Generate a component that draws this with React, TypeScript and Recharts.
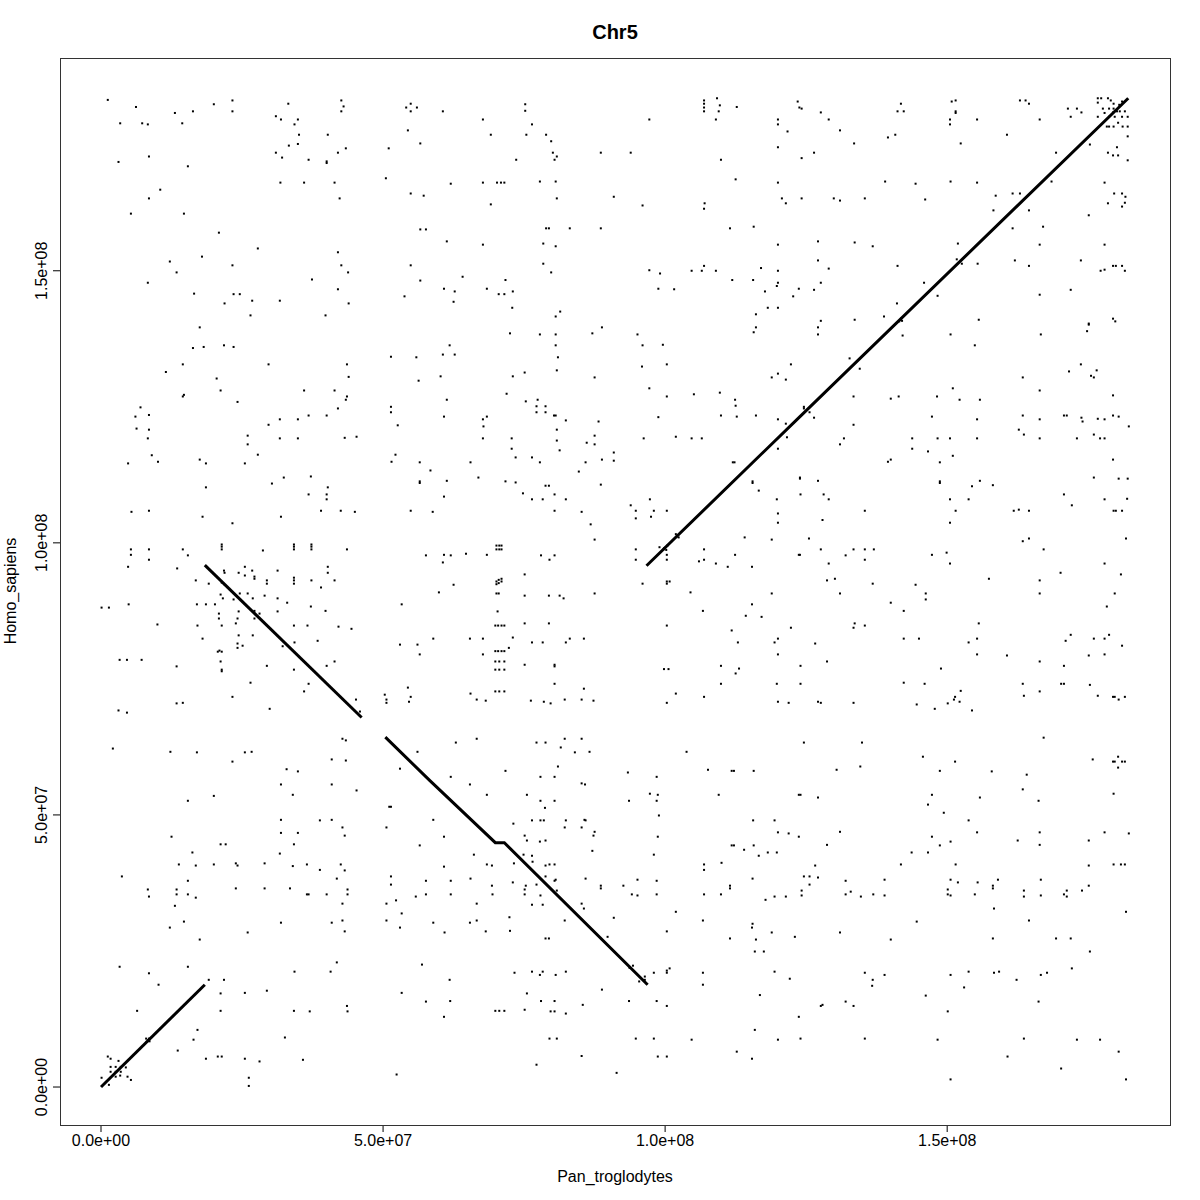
import { ScatterChart, Scatter, XAxis, YAxis } from "recharts";

// alignment positions in Mb (Pan_troglodytes x, Homo_sapiens y)
const segA: [number, number][] = [[0.0, 0.0], [18.4, 18.8]];
const segB: [number, number][] = [[18.4, 95.9], [46.2, 67.9]];
const segC: [number, number][] = [[50.4, 64.3], [58.3, 56.3], [69.9, 44.9], [71.5, 44.9], [96.9, 18.8]];
const segD: [number, number][] = [[96.7, 95.8], [123.9, 123.2], [182.1, 181.7]];

// small clusters sitting on the alignment lines
const lineMarks: [number, number][] = [
  [8.3, 8.6], [8.6, 8.4], [8.0, 8.9], [8.5, 8.9], [8.1, 8.3],
  [100.0, 99.1], [100.4, 99.5], [99.7, 98.8], [100.2, 98.7], [102.1, 101.2], [102.4, 101.0], [101.9, 101.6],
  [141.7, 141.0], [141.9, 141.3], [141.5, 140.7], [142.0, 140.8],
];

const dotsTopLeft: [number, number][] = [
  [1.2, 181.4], [6.2, 180.1], [13.1, 179.0], [16.3, 179.3], [20.0, 180.6], [23.3, 181.3], [23.3, 179.3],
  [3.4, 177.1], [7.3, 177.1], [8.3, 176.9], [14.4, 177.1], [33.2, 180.7], [42.6, 181.3], [43.0, 180.2],
  [42.6, 179.3], [54.9, 180.7], [54.1, 180.0], [56.0, 180.0], [54.9, 179.3], [31.0, 178.4], [31.9, 177.8],
  [34.9, 177.8], [34.3, 176.9], [35.1, 175.0], [40.2, 175.0], [33.3, 173.0], [34.9, 173.3], [43.4, 172.5],
  [51.0, 172.5], [54.4, 175.8], [56.6, 173.4], [31.0, 171.7], [32.1, 170.8], [42.0, 171.7], [36.8, 170.4],
  [40.0, 170.1], [40.0, 169.8], [3.1, 170.0], [8.5, 171.0], [15.4, 169.2], [50.5, 167.0], [31.8, 166.2],
  [36.0, 166.2], [41.4, 166.2], [10.5, 164.9], [8.5, 163.3], [42.3, 163.3], [54.9, 164.2], [57.2, 163.8],
  [5.3, 160.5], [14.7, 160.5], [20.9, 157.0], [56.6, 157.6], [57.6, 157.6], [27.8, 154.1], [17.9, 152.6],
  [12.2, 151.7], [42.0, 153.4], [13.4, 149.7], [23.3, 151.0], [42.6, 151.0], [43.8, 149.7], [54.9, 151.0],
  [8.3, 147.8], [37.4, 148.4], [56.6, 148.2], [16.5, 145.8], [23.5, 145.7], [24.6, 145.7], [42.0, 146.6],
  [26.8, 144.5], [31.7, 144.5], [21.9, 144.0], [43.9, 144.0], [53.8, 145.3], [26.5, 141.8], [39.8, 141.8],
];

const dotsTopMid: [number, number][] = [
  [60.6, 179.3], [75.2, 180.6], [75.2, 179.4], [67.7, 177.8], [76.4, 176.9], [69.1, 175.0], [75.4, 175.0],
  [78.9, 175.0], [79.8, 173.8], [80.1, 171.7], [80.8, 171.0], [80.4, 170.4], [73.6, 170.4], [88.6, 171.7],
  [93.9, 171.7], [62.0, 166.0], [67.7, 166.2], [70.2, 166.2], [70.9, 166.2], [71.5, 166.2], [77.8, 166.4],
  [80.6, 166.4], [80.8, 163.3], [69.1, 162.2], [90.9, 163.6], [96.0, 162.0], [106.9, 181.3], [106.9, 180.7],
  [109.2, 181.7], [109.7, 180.4], [106.9, 180.0], [106.9, 179.3], [109.5, 179.3], [112.7, 180.1],
  [123.5, 181.1], [123.8, 180.0], [97.2, 177.8], [109.0, 177.8], [120.0, 177.8], [120.0, 176.9],
  [121.7, 175.6], [120.0, 172.7], [109.9, 170.4], [112.5, 166.8], [120.0, 166.2], [120.7, 163.3],
  [121.4, 162.4], [107.0, 162.4], [106.9, 161.4], [78.9, 157.8], [79.4, 157.8], [83.1, 157.8], [88.6, 157.8],
  [111.5, 157.8], [115.7, 158.1], [61.3, 155.4], [67.7, 154.8], [78.4, 155.0], [80.6, 154.5], [120.0, 154.8],
  [78.4, 151.3], [79.8, 149.7], [64.1, 148.9], [71.7, 148.3], [60.8, 146.7], [62.7, 146.2], [68.4, 146.7],
  [70.5, 145.7], [71.5, 145.7], [73.0, 146.2], [62.5, 144.3], [72.9, 143.2], [81.4, 142.5], [80.6, 141.6],
  [97.2, 150.1], [99.1, 149.5], [104.7, 150.0], [106.5, 150.0], [109.0, 150.0], [106.9, 150.9],
  [117.0, 150.5], [120.0, 150.0], [111.9, 148.3], [115.6, 148.3], [98.8, 146.7], [101.6, 146.6],
  [120.0, 147.8], [119.8, 147.2], [117.7, 146.2], [123.7, 146.7], [122.7, 145.3], [118.2, 143.2],
  [120.0, 143.2], [116.1, 142.0],
];

const dotsTopRight: [number, number][] = [
  [124.2, 179.8], [127.6, 179.1], [129.0, 177.8], [131.0, 175.8], [133.5, 173.4], [126.4, 171.7],
  [124.2, 170.7], [141.8, 180.7], [141.2, 179.3], [142.3, 179.3], [139.5, 174.5], [140.8, 175.0],
  [150.8, 181.1], [151.5, 181.3], [151.5, 179.3], [151.5, 179.0], [150.5, 177.8], [150.5, 176.9], [155.3, 177.8],
  [162.9, 181.3], [163.9, 181.3], [164.5, 180.7], [166.4, 177.8], [160.6, 175.0], [152.4, 173.4],
  [169.3, 171.7], [171.4, 179.8], [171.9, 178.3], [173.0, 179.8], [173.8, 179.1], [139.0, 166.4],
  [144.4, 166.0], [150.6, 166.4], [155.3, 166.2], [129.9, 163.3], [131.0, 162.9], [135.4, 163.3],
  [146.1, 163.1], [124.2, 163.3], [158.6, 163.8], [161.6, 164.2], [162.9, 164.2], [158.2, 161.1],
  [164.5, 161.1], [168.5, 166.4], [175.3, 173.2], [177.9, 166.2], [178.5, 171.7], [179.4, 171.2],
  [180.3, 171.2], [180.1, 172.7], [182.0, 170.3], [182.0, 174.7], [179.6, 164.2], [181.0, 164.2],
  [181.6, 163.6], [178.5, 162.4], [181.0, 161.8], [181.5, 162.5], [175.1, 160.2], [161.6, 157.8],
  [167.0, 158.1], [127.1, 155.4], [133.6, 155.2], [136.8, 154.5], [151.9, 155.0], [166.4, 154.8],
  [177.9, 154.8], [127.1, 151.9], [129.0, 150.4], [141.2, 150.9], [151.7, 152.1], [152.6, 151.3],
  [155.4, 151.3], [162.0, 151.9], [164.5, 150.9], [173.7, 151.9], [177.2, 150.0], [177.9, 150.2],
  [179.4, 150.9], [179.9, 150.9], [181.0, 150.9], [181.5, 150.0], [127.6, 147.8], [126.4, 146.5],
  [141.1, 144.0], [145.9, 147.8], [148.3, 145.4], [166.4, 145.6], [171.9, 146.5], [127.6, 140.8],
  [133.6, 141.0], [138.8, 141.6], [155.6, 141.0], [175.1, 140.3], [179.4, 141.2], [179.8, 140.7],
  [176.7, 181.7], [178.5, 181.7], [176.7, 180.9], [179.5, 180.7], [181.0, 181.1], [177.6, 179.8],
  [178.7, 179.8], [179.5, 179.8], [180.6, 179.3], [181.5, 179.3], [176.7, 178.3], [178.7, 178.3],
  [179.7, 178.3], [181.0, 178.3], [182.0, 178.3], [178.3, 176.5], [178.7, 176.5], [179.5, 176.5],
  [180.3, 177.2], [181.1, 176.5], [182.0, 176.5], [180.1, 179.3], [179.4, 179.1], [177.3, 181.7],
  [179.0, 181.3], [180.5, 180.5], [177.9, 179.0],
];

const dotsUpperLeft: [number, number][] = [
  [17.5, 139.6], [16.3, 135.8], [18.2, 136.0], [21.8, 136.3], [23.5, 136.0], [14.5, 132.8], [11.5, 131.4],
  [20.5, 130.2], [21.2, 128.0], [14.7, 127.2], [14.5, 126.9], [24.2, 125.9], [29.7, 132.8], [43.6, 132.8],
  [43.9, 130.5], [36.0, 128.0], [41.4, 128.0], [43.6, 126.9], [43.4, 126.3], [42.0, 124.7], [51.4, 134.2],
  [55.9, 134.1], [56.3, 129.8], [7.0, 124.9], [6.1, 123.2], [8.5, 123.5], [6.3, 121.0], [8.5, 120.8],
  [8.3, 119.2], [9.0, 116.1], [10.1, 114.9], [4.8, 114.6], [17.5, 115.3], [18.6, 114.6], [25.5, 114.6],
  [26.0, 119.7], [26.0, 118.1], [27.8, 116.2], [29.7, 121.7], [31.7, 122.7], [34.9, 122.7], [36.8, 123.4],
  [40.0, 123.4], [31.7, 119.2], [34.9, 119.2], [43.2, 119.3], [45.3, 119.5], [51.4, 125.0], [51.4, 124.0],
  [52.6, 121.6], [52.2, 116.2], [51.5, 114.9], [56.5, 114.8], [56.5, 111.3], [56.5, 111.0], [18.6, 110.2],
  [30.3, 110.9], [32.4, 112.0], [37.2, 112.2], [40.2, 110.2], [36.8, 108.9], [40.0, 108.9], [40.0, 108.0],
  [5.4, 105.7], [8.5, 105.9], [18.0, 104.8], [23.3, 103.6], [31.9, 104.8], [39.0, 105.9], [42.5, 105.9],
  [45.0, 105.7], [54.9, 105.9], [5.3, 98.8], [5.3, 97.8], [8.5, 98.8], [8.5, 96.9], [4.8, 95.6],
  [14.5, 98.8], [15.4, 97.7], [13.5, 95.3], [21.4, 99.7], [21.4, 99.3], [21.4, 98.8], [28.7, 98.6],
  [34.2, 99.7], [34.2, 99.3], [34.2, 98.8], [37.3, 99.7], [37.3, 99.3], [37.3, 98.8], [43.6, 98.8],
  [57.6, 97.7], [21.8, 94.9], [21.9, 94.5], [25.5, 95.6], [24.4, 94.5], [25.5, 94.0], [26.8, 94.9],
  [27.2, 93.8], [27.2, 93.4], [31.3, 94.9], [16.8, 93.1], [19.1, 92.5], [21.4, 92.7], [21.8, 92.4],
  [29.4, 93.1], [29.4, 92.5], [34.2, 93.6], [34.2, 93.1], [34.2, 92.5], [37.3, 93.1], [39.0, 91.8],
  [40.2, 95.6], [40.2, 94.5], [41.4, 93.1],
];

const dotsUpperMid: [number, number][] = [
  [72.5, 138.5], [77.8, 138.3], [80.6, 138.3], [87.1, 138.5], [88.8, 139.6], [95.1, 138.3], [61.8, 136.3],
  [60.6, 134.6], [62.7, 134.6], [80.6, 136.3], [81.0, 134.1], [80.8, 131.7], [60.2, 130.6], [73.0, 130.6],
  [75.1, 131.3], [87.5, 130.4], [96.0, 136.3], [99.6, 136.4], [100.3, 132.8], [95.9, 132.4], [97.2, 128.4],
  [100.3, 126.9], [105.1, 127.3], [109.7, 127.6], [112.4, 126.3], [112.5, 125.2], [109.9, 123.4],
  [112.7, 123.2], [116.1, 123.4], [120.0, 122.7], [118.9, 130.4], [120.0, 131.1], [121.4, 130.0],
  [122.3, 132.8], [115.7, 138.7], [116.1, 139.6], [61.3, 126.3], [71.9, 127.4], [75.3, 126.0],
  [77.4, 126.3], [77.2, 125.1], [78.8, 125.1], [77.2, 124.0], [78.8, 124.0], [80.6, 123.4], [80.3, 123.4],
  [82.4, 122.5], [88.2, 122.3], [60.8, 123.2], [67.7, 122.7], [68.4, 123.2], [67.8, 121.4], [67.7, 119.2],
  [72.8, 119.2], [72.8, 117.3], [73.5, 115.7], [76.4, 115.7], [77.8, 114.8], [80.8, 120.8], [80.8, 118.8],
  [81.3, 117.0], [86.1, 118.4], [87.5, 119.7], [87.5, 118.1], [88.8, 115.3], [90.9, 116.6], [90.9, 115.1],
  [85.9, 114.8], [84.7, 113.1], [65.5, 114.8], [58.4, 113.3], [66.9, 112.0], [61.3, 111.4], [60.8, 108.5],
  [58.8, 105.7], [71.7, 111.3], [73.5, 111.1], [78.8, 110.5], [79.4, 110.5], [74.8, 109.1], [76.4, 108.0],
  [78.3, 108.0], [80.4, 108.9], [82.4, 108.0], [80.4, 105.9], [85.2, 105.7], [88.6, 110.7], [86.8, 103.4],
  [87.5, 100.6], [96.2, 119.2], [101.9, 119.5], [104.7, 119.2], [106.5, 119.2], [98.8, 123.1],
  [93.9, 106.9], [94.8, 105.9], [94.8, 104.5], [97.3, 108.0], [98.0, 105.9], [97.5, 104.8], [100.3, 105.9],
  [112.0, 114.8], [112.3, 114.8], [115.5, 111.3], [115.5, 111.0], [116.6, 109.6], [121.4, 121.9],
  [121.6, 119.4], [120.0, 117.3], [123.9, 112.0], [119.8, 108.0], [120.0, 105.4], [120.0, 103.7],
  [114.1, 101.0], [118.9, 100.6], [112.4, 97.8], [115.4, 95.6], [111.1, 95.6], [109.0, 96.2], [106.0, 96.6],
  [106.9, 96.9], [106.9, 98.8], [100.3, 97.8], [100.3, 96.9], [94.8, 98.8], [94.8, 96.9], [123.7, 97.8],
  [60.8, 97.8], [62.0, 97.7], [64.7, 98.0], [68.4, 97.8], [60.6, 96.4], [78.0, 97.7], [80.4, 97.7],
  [79.5, 96.9], [75.1, 94.2], [62.5, 92.3], [96.0, 92.5], [70.1, 99.5], [70.6, 99.5], [71.0, 99.5],
  [70.1, 98.8], [70.6, 98.8], [71.0, 98.8], [70.1, 92.9], [71.0, 92.9], [70.5, 92.6], [70.5, 93.2],
  [70.1, 92.4], [71.0, 93.4], [100.3, 92.9], [100.3, 92.5], [100.8, 92.9], [99.0, 99.2], [99.8, 99.0],
];

const dotsUpperRight: [number, number][] = [
  [127.1, 139.6], [127.1, 138.3], [142.1, 138.1], [150.6, 138.3], [154.9, 136.3], [166.6, 138.3],
  [175.1, 140.1], [174.8, 138.9], [132.7, 133.9], [134.5, 132.0], [133.4, 126.9], [140.0, 126.5],
  [141.4, 126.9], [148.2, 126.9], [151.0, 128.4], [152.2, 126.3], [155.8, 126.3], [163.4, 130.4],
  [166.4, 128.0], [171.6, 131.5], [173.7, 132.8], [175.5, 130.7], [176.0, 130.4], [176.5, 131.7],
  [179.4, 127.1], [124.6, 125.0], [125.6, 124.0], [133.4, 121.7], [131.7, 119.2], [131.0, 118.1],
  [147.3, 123.2], [155.3, 122.7], [143.8, 119.2], [148.3, 119.2], [150.5, 119.2], [155.3, 119.2],
  [143.8, 117.3], [146.6, 116.8], [151.0, 116.0], [148.7, 114.8], [139.5, 114.9], [140.0, 115.3],
  [163.4, 123.4], [166.4, 122.7], [170.7, 123.4], [171.2, 123.4], [173.8, 123.0], [174.0, 122.3],
  [176.7, 122.8], [177.9, 122.7], [179.4, 123.4], [180.4, 123.2], [182.2, 121.4], [162.7, 120.8],
  [163.6, 119.9], [166.4, 119.2], [173.0, 119.2], [176.0, 119.9], [177.1, 119.2], [177.9, 119.2],
  [179.4, 115.3], [176.0, 112.0], [180.4, 111.8], [182.0, 111.8], [123.9, 111.8], [127.1, 111.4],
  [124.0, 108.9], [128.1, 108.9], [129.0, 108.0], [135.4, 105.9], [127.9, 104.2], [148.7, 111.3],
  [148.7, 111.0], [155.8, 111.4], [158.1, 110.6], [154.4, 110.4], [150.5, 108.0], [153.8, 108.0],
  [151.5, 105.9], [150.5, 103.7], [161.8, 105.9], [162.7, 106.1], [164.5, 105.9], [170.7, 108.9],
  [172.1, 106.9], [177.9, 108.0], [181.9, 108.1], [179.5, 105.9], [179.9, 105.9], [181.0, 105.9],
  [125.5, 100.8], [123.9, 97.8], [127.6, 98.8], [129.0, 96.2], [132.0, 97.7], [133.4, 98.8], [135.4, 98.8],
  [135.4, 96.9], [137.0, 98.8], [128.7, 93.1], [130.1, 93.4], [136.8, 92.5], [144.4, 92.3], [147.3, 97.8],
  [149.9, 98.2], [150.5, 96.2], [157.4, 93.4], [163.4, 100.3], [164.5, 100.8], [167.1, 98.8], [166.4, 93.1],
  [170.1, 94.5], [177.9, 96.2], [180.8, 94.2], [181.7, 100.8], [124.6, 124.7], [126.4, 123.0],
];

const dotsLowerLeft: [number, number][] = [
  [0.1, 88.1], [1.4, 88.1], [4.9, 88.7], [17.0, 88.7], [18.6, 88.7], [20.2, 88.7], [21.2, 90.5],
  [21.6, 89.8], [23.5, 89.6], [24.6, 90.7], [26.0, 90.7], [26.9, 89.8], [29.0, 90.3], [31.3, 89.8],
  [33.0, 89.0], [37.2, 88.3], [39.8, 87.5], [10.0, 85.0], [17.1, 84.8], [18.0, 82.4], [20.9, 87.0],
  [20.9, 86.1], [21.4, 84.8], [23.9, 85.2], [24.2, 86.1], [24.4, 87.4], [24.4, 83.0], [24.2, 81.5],
  [24.2, 80.7], [25.1, 81.1], [26.9, 83.0], [27.2, 87.5], [28.1, 87.0], [27.2, 86.1], [31.3, 87.4],
  [34.2, 84.8], [36.6, 84.8], [42.1, 84.6], [44.4, 84.2], [34.3, 81.7], [38.4, 82.0], [32.2, 81.0],
  [20.7, 80.0], [21.4, 80.0], [21.0, 80.2], [21.2, 78.2], [21.4, 76.7], [21.4, 76.4], [13.4, 77.3],
  [3.3, 78.5], [4.6, 78.5], [7.2, 78.5], [13.4, 70.5], [14.5, 70.6], [3.1, 69.2], [4.6, 68.8], [23.3, 71.7],
  [26.5, 74.3], [29.4, 77.4], [29.9, 69.5], [34.2, 76.7], [36.0, 72.7], [36.8, 74.1], [40.0, 77.4],
  [41.4, 78.2], [45.2, 71.2], [45.9, 69.0], [53.3, 88.7], [53.0, 81.3], [56.1, 81.3], [56.5, 79.5],
  [50.3, 72.1], [50.6, 71.2], [50.6, 70.6], [54.4, 73.4], [54.9, 71.7], [54.6, 70.8], [2.1, 62.2],
  [12.3, 61.6], [17.0, 61.5], [25.5, 61.5], [26.7, 61.6], [23.3, 59.8], [42.8, 64.0], [43.4, 63.7],
  [43.4, 60.0], [40.9, 60.2], [32.9, 58.4], [34.9, 58.0], [31.9, 55.6], [34.0, 53.7], [40.9, 55.6],
  [45.3, 54.5], [56.1, 61.6], [53.0, 58.5], [20.0, 53.5], [15.4, 52.6], [51.1, 51.5], [51.4, 51.5],
  [31.9, 49.1], [38.8, 49.0], [40.9, 49.1], [42.8, 47.7], [31.9, 46.7], [34.9, 46.7], [43.2, 46.2],
  [50.6, 47.7], [12.5, 46.0], [21.2, 44.6], [22.1, 44.6], [34.2, 44.6], [16.2, 43.1], [31.7, 42.9],
  [56.5, 44.4],
];

const dotsLowerMid: [number, number][] = [
  [59.9, 90.9], [70.1, 90.7], [70.5, 90.7], [75.1, 90.3], [79.4, 90.3], [81.3, 90.3], [82.0, 89.8],
  [87.5, 90.7], [70.3, 87.4], [75.1, 85.2], [79.4, 85.2], [58.9, 82.4], [65.4, 82.4], [67.7, 82.4],
  [73.0, 82.6], [72.3, 80.7], [76.4, 81.7], [78.3, 81.7], [82.4, 81.7], [83.1, 82.4], [85.6, 82.4],
  [67.7, 79.5], [75.1, 77.6], [80.4, 77.6], [80.4, 77.3], [80.4, 74.1], [85.6, 73.2], [65.5, 72.3],
  [66.6, 71.2], [68.2, 71.0], [76.2, 71.0], [78.5, 70.8], [79.7, 70.5], [82.2, 71.2], [85.2, 71.2],
  [87.3, 71.0], [69.9, 84.8], [70.4, 84.8], [71.0, 84.8], [71.5, 84.8], [69.9, 80.1], [70.4, 80.1],
  [71.0, 80.1], [71.5, 80.1], [69.9, 78.2], [70.6, 78.2], [71.5, 78.2], [69.9, 76.7], [70.6, 76.7],
  [71.5, 76.7], [69.9, 72.7], [70.6, 72.7], [71.5, 72.7], [104.5, 90.9], [118.9, 90.7], [115.4, 88.7],
  [114.3, 86.6], [117.1, 86.4], [106.7, 87.5], [100.3, 84.8], [122.3, 84.4], [111.8, 83.9], [112.9, 81.7],
  [119.4, 81.7], [120.0, 82.4], [120.0, 79.5], [99.8, 76.8], [100.6, 76.8], [109.9, 77.4], [113.1, 76.9],
  [112.5, 76.0], [109.9, 74.1], [119.8, 74.1], [101.9, 72.3], [106.9, 71.7], [100.3, 70.6], [120.0, 70.8],
  [121.9, 70.6], [62.9, 63.3], [66.6, 64.0], [77.2, 63.3], [78.8, 63.3], [82.2, 64.0], [85.2, 64.0],
  [81.5, 62.4], [84.0, 61.5], [86.6, 61.6], [103.8, 61.6], [81.0, 58.9], [62.0, 57.0], [65.4, 55.6],
  [71.7, 58.1], [77.9, 57.0], [80.4, 57.0], [85.2, 55.8], [85.8, 55.6], [68.4, 53.7], [75.5, 53.7],
  [77.9, 52.6], [80.4, 52.6], [78.7, 51.3], [93.4, 57.8], [98.5, 57.0], [97.3, 53.9], [98.7, 53.7],
  [93.6, 52.6], [98.5, 52.6], [98.9, 49.9], [107.6, 58.3], [111.8, 58.1], [112.2, 58.1], [115.7, 58.1],
  [109.5, 53.7], [123.7, 53.7], [58.9, 49.1], [60.8, 46.0], [73.1, 48.4], [76.4, 49.0], [77.9, 49.0],
  [78.5, 49.0], [82.4, 49.0], [85.7, 49.1], [85.9, 49.0], [82.2, 47.7], [85.2, 47.7], [87.5, 46.9],
  [87.3, 46.2], [75.1, 46.2], [75.5, 45.3], [77.8, 45.1], [78.8, 45.3], [66.1, 42.7], [74.9, 42.7],
  [76.4, 42.5], [87.1, 43.4], [98.0, 42.7], [98.7, 46.0], [115.6, 49.0], [119.4, 49.0], [120.0, 46.8],
  [121.9, 46.6], [123.7, 46.0], [111.8, 44.4], [112.2, 44.4], [115.7, 44.4], [114.0, 43.6], [116.6, 42.5],
  [118.2, 43.1], [119.8, 43.1],
];

const dotsLowerRight: [number, number][] = [
  [131.0, 90.7], [146.2, 90.7], [146.2, 89.6], [140.0, 89.0], [142.3, 87.5], [166.4, 90.7], [179.7, 90.7],
  [178.3, 88.3], [133.6, 85.2], [133.4, 84.4], [135.4, 84.8], [155.6, 85.2], [126.6, 81.5], [142.3, 82.4],
  [145.0, 82.4], [155.3, 82.4], [153.8, 81.7], [155.3, 79.5], [160.6, 79.3], [166.4, 78.2], [128.7, 78.2],
  [124.0, 77.4], [148.9, 76.9], [170.7, 77.4], [171.9, 83.1], [171.0, 82.0], [176.0, 82.4], [177.9, 82.4],
  [178.7, 83.1], [181.0, 81.1], [175.1, 79.3], [177.9, 79.5], [124.0, 74.1], [142.3, 74.3], [146.0, 74.1],
  [163.4, 74.1], [170.2, 74.1], [170.7, 74.1], [175.3, 73.9], [166.4, 72.7], [163.6, 71.9], [152.4, 72.8],
  [151.4, 71.7], [151.2, 71.2], [152.2, 70.8], [150.1, 70.5], [144.6, 70.3], [147.8, 69.5], [154.4, 69.2],
  [127.1, 70.8], [127.6, 70.6], [133.4, 70.6], [176.7, 71.9], [179.4, 71.7], [179.7, 71.7], [180.4, 71.2],
  [181.5, 71.7], [124.6, 63.3], [134.9, 63.3], [167.1, 64.2], [145.7, 60.7], [151.4, 59.8], [148.7, 58.1],
  [157.9, 58.0], [164.1, 57.4], [130.4, 58.3], [134.6, 58.9], [175.8, 60.2], [179.4, 59.8], [179.7, 59.8],
  [180.3, 60.7], [181.0, 59.8], [181.5, 59.8], [180.3, 58.7], [124.0, 53.7], [127.1, 53.2], [147.3, 53.7],
  [155.8, 53.2], [163.4, 54.7], [166.2, 52.6], [146.6, 51.9], [149.4, 50.4], [153.8, 49.0], [179.5, 53.9],
  [131.0, 46.9], [128.7, 44.5], [147.3, 46.0], [148.7, 44.4], [150.6, 45.1], [155.3, 46.8], [162.5, 45.3],
  [166.4, 46.8], [166.4, 44.5], [177.9, 46.8], [182.2, 46.6], [175.1, 45.3], [143.7, 43.1], [146.6, 43.1],
];

const dotsBottomLeft: [number, number][] = [
  [3.7, 38.7], [13.8, 40.9], [16.8, 40.7], [20.0, 40.9], [23.9, 41.1], [24.2, 40.7], [29.0, 41.1],
  [34.0, 40.6], [36.5, 40.9], [38.8, 39.9], [42.5, 40.9], [43.2, 39.8], [41.8, 38.3], [15.4, 37.9],
  [8.3, 36.3], [8.5, 35.0], [13.4, 36.3], [13.4, 35.4], [15.4, 35.4], [16.8, 34.8], [13.1, 33.3],
  [23.9, 36.5], [29.0, 36.5], [33.5, 36.5], [36.5, 35.4], [36.8, 35.4], [40.0, 35.4], [43.7, 36.3],
  [43.7, 35.4], [42.8, 33.7], [14.7, 30.4], [12.2, 29.3], [17.5, 27.1], [26.0, 28.4], [31.9, 30.2],
  [40.9, 30.2], [42.8, 30.6], [43.2, 28.6], [51.4, 38.7], [51.4, 37.2], [57.6, 37.9], [52.3, 34.3],
  [50.6, 33.7], [55.8, 35.0], [57.6, 35.4], [53.3, 31.9], [50.6, 30.6], [53.0, 29.3], [3.3, 22.1],
  [8.5, 20.9], [10.2, 18.8], [15.4, 22.1], [19.1, 19.7], [21.8, 19.7], [21.2, 17.2], [21.2, 14.0],
  [25.5, 17.3], [29.4, 17.7], [34.3, 21.2], [40.7, 21.2], [41.8, 22.9], [56.9, 22.5], [43.6, 14.9],
  [43.7, 13.9], [34.2, 14.0], [37.0, 13.9], [6.4, 14.0], [17.1, 10.5], [16.4, 8.7], [13.6, 6.7],
  [18.6, 5.2], [20.7, 5.6], [21.4, 5.6], [25.5, 5.2], [28.1, 4.7], [32.6, 9.1], [35.8, 5.0], [53.3, 17.3],
  [57.6, 15.7], [52.4, 2.3], [26.2, 1.7], [26.2, 0.2], [1.2, 5.6], [1.7, 5.2], [3.1, 4.8], [1.7, 3.7],
  [2.6, 3.7], [3.5, 3.7], [4.4, 3.6], [1.7, 2.8], [2.6, 2.8], [3.5, 2.8], [2.6, 1.9], [3.4, 2.1],
  [4.7, 1.9], [5.3, 1.3], [0.1, 1.7], [1.4, 0.4],
];

const dotsBottomMid: [number, number][] = [
  [60.8, 40.5], [62.0, 37.9], [62.0, 35.4], [65.5, 38.3], [66.6, 33.7], [65.4, 30.2], [66.6, 30.6],
  [68.2, 28.6], [60.9, 28.4], [58.9, 30.2], [68.4, 40.9], [69.3, 40.7], [73.2, 41.1], [76.5, 41.4],
  [78.8, 40.7], [79.5, 40.9], [80.4, 40.9], [73.0, 37.6], [69.3, 37.0], [69.4, 35.4], [75.3, 37.0],
  [75.1, 36.3], [75.1, 35.4], [77.2, 37.2], [76.4, 33.5], [78.3, 33.5], [78.8, 38.7], [80.6, 38.1],
  [80.4, 37.9], [77.9, 35.2], [80.8, 36.1], [82.2, 30.6], [85.2, 33.7], [85.6, 32.8], [85.9, 38.3],
  [88.6, 37.0], [88.6, 36.5], [90.9, 31.1], [89.8, 27.6], [92.6, 37.0], [94.1, 35.4], [95.1, 35.2],
  [95.1, 38.1], [98.5, 37.9], [98.5, 35.4], [101.9, 32.2], [100.3, 28.6], [72.4, 31.2], [72.5, 28.7],
  [78.8, 27.3], [79.4, 27.3], [73.3, 21.0], [76.4, 21.2], [78.3, 21.2], [77.8, 20.6], [80.6, 20.6],
  [82.4, 21.2], [93.7, 21.9], [94.3, 22.3], [96.4, 20.3], [96.4, 19.7], [95.4, 19.4], [98.0, 21.0],
  [100.3, 21.4], [100.8, 21.8], [100.3, 21.0], [106.7, 21.0], [106.7, 18.8], [106.9, 40.9], [106.9, 39.9],
  [110.0, 41.2], [111.5, 37.0], [111.5, 36.5], [115.5, 38.3], [106.9, 35.4], [109.9, 35.4], [117.8, 34.4],
  [119.4, 35.0], [121.4, 35.0], [106.7, 30.6], [115.5, 30.0], [115.4, 29.3], [118.9, 28.4], [111.5, 27.3],
  [116.1, 27.1], [123.0, 27.6], [115.9, 24.9], [117.5, 24.9], [119.4, 21.2], [122.1, 19.9], [61.8, 19.7],
  [61.9, 15.8], [60.8, 12.9], [75.5, 17.2], [78.0, 15.8], [80.4, 15.8], [75.1, 14.2], [79.7, 13.9],
  [80.4, 13.9], [82.4, 13.5], [85.4, 15.1], [88.8, 17.9], [93.6, 15.8], [98.5, 15.8], [100.3, 14.9],
  [116.8, 16.9], [69.9, 14.0], [70.6, 14.0], [71.5, 14.0], [79.5, 8.9], [80.8, 8.9], [94.8, 8.9],
  [98.0, 8.9], [104.7, 8.7], [115.9, 10.5], [120.0, 8.7], [123.7, 12.9], [85.2, 5.7], [77.2, 4.1],
  [91.4, 2.6], [98.7, 5.6], [100.3, 5.6], [112.7, 6.5], [115.4, 5.2],
];

const dotsBottomRight: [number, number][] = [
  [126.6, 40.7], [124.6, 38.7], [125.6, 38.7], [127.1, 38.5], [125.6, 37.2], [124.2, 36.1], [124.2, 35.2],
  [132.0, 37.9], [132.0, 35.4], [132.9, 35.9], [134.7, 35.0], [136.9, 35.4], [138.9, 38.1], [138.9, 35.2],
  [141.8, 40.9], [144.6, 30.4], [131.0, 28.4], [140.0, 27.1], [151.5, 40.9], [150.6, 38.1], [151.9, 37.6],
  [155.4, 37.6], [150.1, 36.3], [150.1, 35.4], [150.6, 35.2], [154.9, 35.4], [158.1, 37.0], [158.1, 36.5],
  [159.0, 38.1], [166.6, 38.1], [163.6, 36.1], [163.6, 35.0], [166.6, 35.2], [171.2, 36.1], [170.7, 35.4],
  [171.2, 35.0], [173.9, 36.1], [175.1, 37.0], [175.1, 40.7], [179.5, 40.9], [180.8, 40.9], [181.5, 40.9],
  [181.7, 32.2], [158.3, 32.8], [164.5, 30.6], [158.1, 27.3], [169.3, 27.3], [171.9, 27.3], [175.3, 24.9],
  [135.4, 21.0], [136.8, 19.7], [136.7, 18.6], [138.9, 20.6], [150.6, 20.6], [153.8, 21.2], [158.3, 21.0],
  [159.2, 21.2], [162.3, 19.7], [166.6, 20.6], [167.7, 21.0], [172.1, 21.8], [153.0, 18.3], [146.2, 16.8],
  [150.1, 13.9], [166.2, 15.7], [127.6, 14.9], [127.9, 15.1], [132.0, 15.7], [133.4, 14.9], [124.0, 8.9],
  [135.4, 8.9], [148.3, 8.7], [163.6, 8.9], [173.0, 8.7], [177.1, 8.7], [180.4, 6.5], [160.7, 5.6],
  [170.2, 3.4], [150.6, 1.4], [181.7, 1.4],
];

const dotGroups = [
  dotsTopLeft, dotsTopMid, dotsTopRight,
  dotsUpperLeft, dotsUpperMid, dotsUpperRight,
  dotsLowerLeft, dotsLowerMid, dotsLowerRight,
  dotsBottomLeft, dotsBottomMid, dotsBottomRight,
  lineMarks,
];

const xTicks = [0, 50, 100, 150];
const yTicks = [0, 50, 100, 150];

const toPts = (arr: [number, number][]) => arr.map(([x, y]) => ({ x, y }));
const dots = dotGroups.flatMap(toPts);
const segments = [segA, segB, segC, segD].map(toPts);

// R style scientific label, e.g. 5.0e+07
const sci = (mb: number) => {
  const s = (mb * 1e6).toExponential(1);
  const [m, e] = s.split("e");
  return `${m}e${e[0]}${e.slice(1).padStart(2, "0")}`;
};

const FONT = "'Liberation Sans', Arial, sans-serif";

const XTick = ({ x, y, payload }: any) => (
  <text x={x} y={y + 12} textAnchor="middle" fontSize={16} fontFamily={FONT} fill="#000">
    {sci(payload.value)}
  </text>
);

const YTick = ({ x, y, payload }: any) => (
  <text
    transform={`translate(${x - 4},${y}) rotate(-90)`}
    textAnchor="middle"
    fontSize={16}
    fontFamily={FONT}
    fill="#000"
  >
    {sci(payload.value)}
  </text>
);

const Dot = ({ cx, cy }: any) => <rect x={cx - 1} y={cy - 1} width={2} height={2} fill="#000" />;
const NoDot = () => null;

export default function App() {
  return (
    <div style={{ position: "absolute", left: 0, top: 0, width: 1200, height: 1200, background: "#fff" }}>
      <ScatterChart width={1200} height={1200} margin={{ top: 58, right: 30, left: 0, bottom: 0 }}>
        <XAxis
          type="number"
          dataKey="x"
          domain={[-7.27, 189.5]}
          ticks={xTicks}
          allowDataOverflow
          axisLine={false}
          tickLine={{ stroke: "#000" }}
          tickSize={7}
          height={75}
          tick={<XTick />}
          interval={0}
        />
        <YAxis
          type="number"
          dataKey="y"
          domain={[-6.98, 189.1]}
          ticks={yTicks}
          allowDataOverflow
          axisLine={false}
          tickLine={{ stroke: "#000" }}
          tickSize={7}
          width={60}
          tick={<YTick />}
          interval={0}
        />
        <Scatter data={dots} shape={<Dot />} isAnimationActive={false} />
        {segments.map((seg, i) => (
          <Scatter
            key={i}
            data={seg}
            line={{ stroke: "#000", strokeWidth: 3 }}
            lineType="joint"
            shape={<NoDot />}
            isAnimationActive={false}
          />
        ))}
      </ScatterChart>
      <svg
        width={1200}
        height={1200}
        style={{ position: "absolute", left: 0, top: 0, pointerEvents: "none" }}
      >
        <rect x={60.5} y={58.5} width={1110} height={1067} fill="none" stroke="#333" strokeWidth={1} />
        <text x={615} y={39} textAnchor="middle" fontSize={20} fontWeight="bold" fontFamily={FONT}>
          Chr5
        </text>
        <text x={615} y={1182} textAnchor="middle" fontSize={16} fontFamily={FONT}>
          Pan_troglodytes
        </text>
        <text transform="translate(16,591) rotate(-90)" textAnchor="middle" fontSize={16} fontFamily={FONT}>
          Homo_sapiens
        </text>
      </svg>
    </div>
  );
}
